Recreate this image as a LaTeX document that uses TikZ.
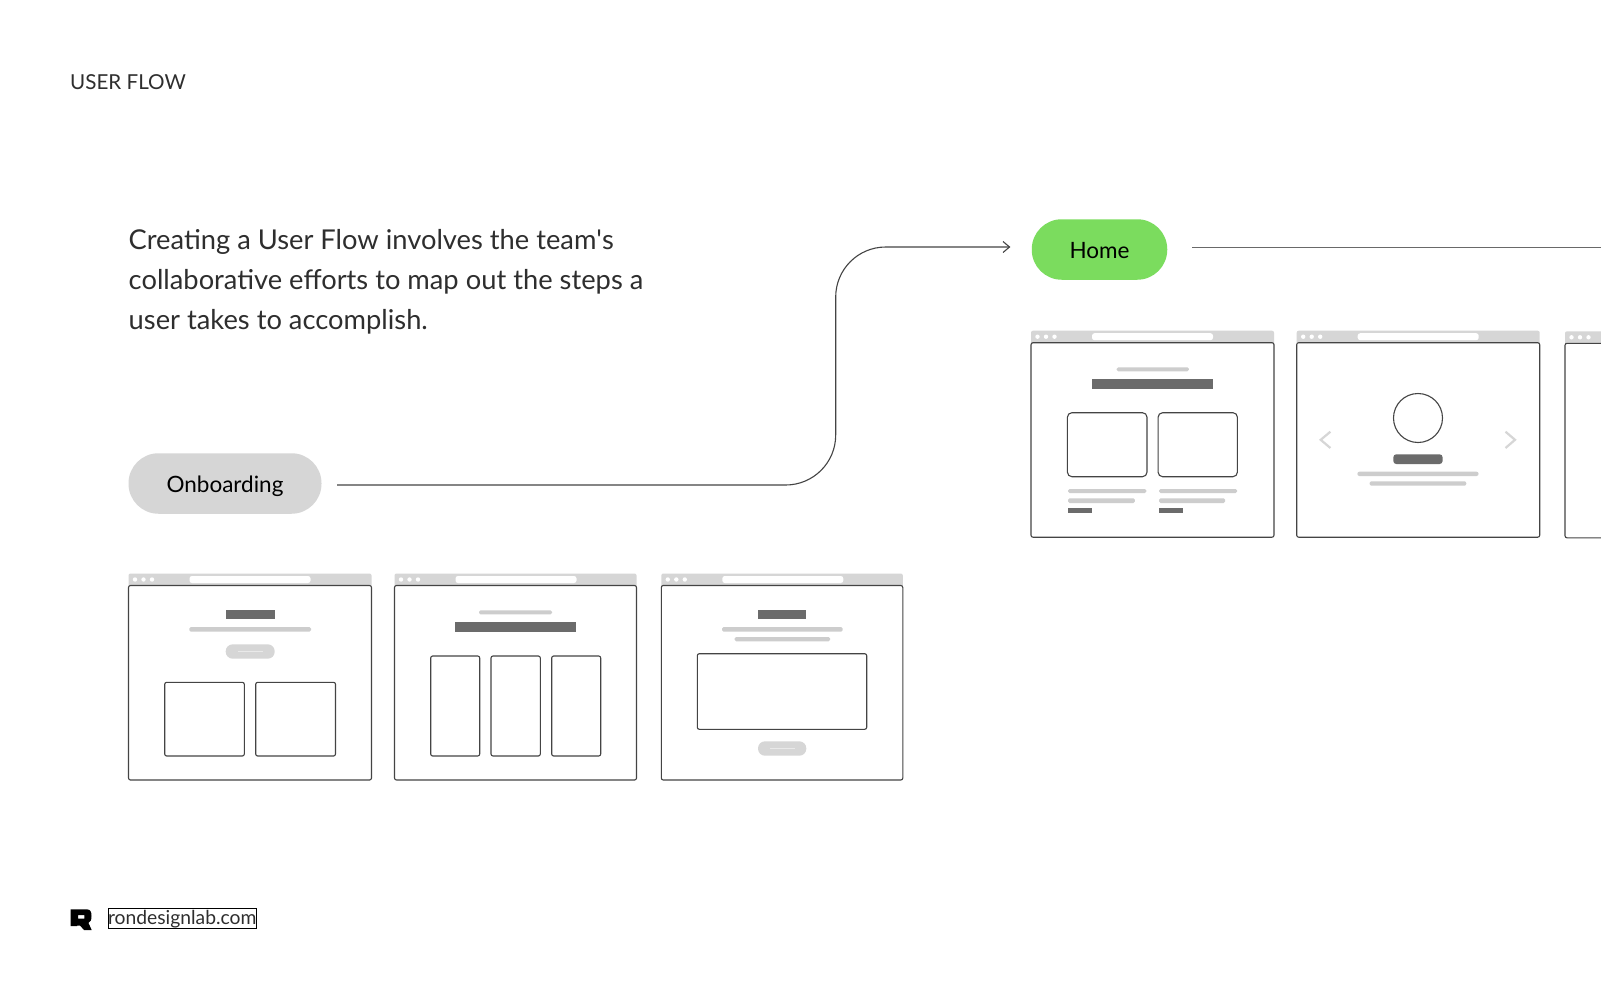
\documentclass[tikz,border=0pt]{standalone}
\usepackage{fontspec}
\setmainfont{Lato}
\definecolor{darkbar}{HTML}{6B6B6B}
\definecolor{lightbar}{HTML}{CDCDCD}
\definecolor{barback}{HTML}{D6D6D6}
\definecolor{edgeline}{HTML}{444444}
\definecolor{homegreen}{HTML}{7BDC5E}
\definecolor{inktext}{HTML}{2E2E2E}
\tikzset{
	pill/.style={rounded corners=30pt, minimum height=60.5pt, inner sep=0pt, text height=18.2pt, text depth=0pt, font=\fontsize{22.5}{24}\selectfont, text=black},
	frameline/.style={draw=edgeline, line width=1.1pt, rounded corners=2pt},
	thinline/.style={draw=edgeline, line width=1.1pt},
	darkfill/.style={fill=darkbar},
	lightfill/.style={fill=lightbar, rounded corners=1.5pt},
	dotfill/.style={fill=white},
	introline/.style={anchor=base west, inner sep=0pt, text=inktext, font=\fontsize{27.3}{40}\selectfont}
}
% one browser window, #1 left edge, #2 top edge of the frame, #3 width
\newcommand{\browser}[3]{
	\fill[barback, rounded corners=2pt] (#1,#2-12) rectangle (#1+#3,#2+2);
	\fill[white, rounded corners=2.5pt] (#1+61,#2-9.5) rectangle (#1+182,#2-2.5);
	\foreach \dotx in {6.5,15,23.5} \fill[dotfill] (#1+\dotx,#2-6) circle (2.2);
	\draw[frameline, fill=white] (#1,#2) rectangle (#1+#3,#2+194.5);
}
\begin{document}
\begin{tikzpicture}[x=1pt,y=-1pt]
\useasboundingbox (0,0) rectangle (1601,1001);
\fill[white] (0,0) rectangle (1601,1001);
\node[anchor=base west, inner sep=0pt, text=inktext, font=\fontsize{20.6}{24}\selectfont] (title) at (70,89.5) {USER FLOW};
\node[introline] (introa) at (128.5,249) {Creating a User Flow involves the team\textquotesingle s};
\node[introline] (introb) at (128.5,289) {collaborative efforts to map out the steps a};
\node[introline] (introc) at (128.5,329) {user takes to accomplish.};

\node[pill, fill=barback, minimum width=193pt] (onboarding) at (225,483.5) {Onboarding};
\node[pill, fill=homegreen, minimum width=135.5pt] (home) at (1099.5,249.5) {Home};

\coordinate (startline) at (337,485);
\coordinate (endarrow) at (1009.5,247);
\coordinate (endline) at (1601,247.4);
\coordinate (homeout) at (1192,247.4);
\draw[thinline, rounded corners=50pt] (startline) -- (835.7,485) -- (835.7,247) -- (endarrow);
\draw[thinline] (1003,241.5) -- (endarrow) -- (1003,252.5);
\draw[thinline, draw=edgeline!80!white] (homeout) -- (endline);

% onboarding windows
\browser{128.5}{585.5}{243}
\fill[darkfill] (225.7,610) rectangle (274.7,619.3);
\fill[lightfill] (189.3,627) rectangle (311,631.7);
\fill[barback, rounded corners=7pt] (225.7,644.3) rectangle (274.7,658.7);
\draw[white!45!barback, line width=.8pt] (238,651.5) -- (262.7,651.5);
\draw[frameline] (164.7,682.3) rectangle (244.3,756);
\draw[frameline] (255.7,682.3) rectangle (335.5,756);

\browser{394.5}{585.5}{242}
\fill[lightfill] (479,610.3) rectangle (552,614.3);
\fill[darkfill] (455,622.3) rectangle (576,631.7);
\draw[frameline] (430.7,656) rectangle (479.7,756);
\draw[frameline] (491,656) rectangle (540.3,756);
\draw[frameline] (551.7,656) rectangle (600.7,756);

\browser{661.3}{585.5}{241.5}
\fill[darkfill] (758,610) rectangle (806.3,619.3);
\fill[lightfill] (722,627) rectangle (842.7,631.7);
\fill[lightfill] (734.7,637) rectangle (830,641.3);
\draw[frameline] (697.3,653.7) rectangle (866.7,729.3);
\fill[barback, rounded corners=7pt] (758,741.3) rectangle (806.3,755.7);
\draw[white!45!barback, line width=.8pt] (770,748.7) -- (795,748.7);

% home windows
\browser{1031}{342.7}{243}
\fill[lightfill] (1116.7,367.3) rectangle (1188.9,371.3);
\fill[darkfill] (1092.2,379.3) rectangle (1213.3,388.7);
\draw[frameline, rounded corners=4.5pt] (1067.4,412.7) rectangle (1147,476.7);
\draw[frameline, rounded corners=4.5pt] (1158.1,412.7) rectangle (1237.4,476.7);
\fill[lightfill] (1068,489) rectangle (1146.3,493);
\fill[lightfill] (1159,489) rectangle (1237,493);
\fill[lightfill] (1068,498.3) rectangle (1134.8,503);
\fill[lightfill] (1159,498.3) rectangle (1225.2,503);
\fill[darkfill] (1068,508) rectangle (1092.2,512.7);
\fill[darkfill] (1159,508) rectangle (1183,512.7);

\browser{1296.7}{342.7}{243}
\draw[edgeline, line width=1.1pt] (1418,418) circle (24.5);
\fill[darkfill, rounded corners=3pt] (1393.3,454.3) rectangle (1442.6,464);
\fill[lightfill, rounded corners=2pt] (1357.4,471.7) rectangle (1478.5,476);
\fill[lightfill, rounded corners=2pt] (1369.6,481.3) rectangle (1466.3,485.7);
\draw[barback, line width=2.2pt] (1330.4,431.7) -- (1320.7,439.8) -- (1330.4,448);
\draw[barback, line width=2.2pt] (1505.5,431.7) -- (1515,439.8) -- (1505.5,448);

\browser{1565}{343.3}{243}

% footer
\node[anchor=base west, draw=black, line width=1pt, inner xsep=0pt, inner ysep=1.2pt, text=inktext, font=\fontsize{19.3}{22}\selectfont] (sitelink) at (107.5,924) {rondesignlab.com};
\fill[black, even odd rule] (70.7,909.3) -- (87,909.3) .. controls (90.5,909.5) and (91.5,912) .. (91.5,916) .. controls (91.5,920) and (90.5,922) .. (88.5,923) -- (91.7,930) -- (84,930) -- (80,925.5) -- (77,925.5) -- (77,926) -- (70.7,926) -- cycle
	(78,915) rectangle (84.3,918.5);
\end{tikzpicture}
\end{document}
